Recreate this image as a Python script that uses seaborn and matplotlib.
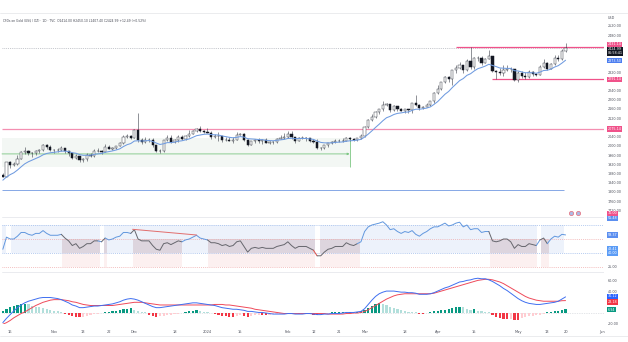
import matplotlib
matplotlib.use("Agg")
import matplotlib.pyplot as plt
from matplotlib.transforms import blended_transform_factory as blend
import numpy as np
import pandas as pd
import seaborn as sns

# ---------------- data ----------------
x_labels = ["16", "Nov", "13", "22", "Dec", "18", "2024", "15", "Feb", "12", "21",
            "Mar", "18", "Apr", "15", "May", "13", "20", "Jun"]
x_label_bars = [2, 14, 22, 29, 36, 47, 56, 65, 78, 85, 92, 99, 110, 119, 129, 141, 149, 154, 164]

opens = [1874, 1868, 1932, 1920, 1923, 1947, 1974, 1981, 1973, 1971,
         1979, 1985, 2006, 1996, 1983, 1983, 1985, 1992, 1978, 1970,
         1950, 1958, 1940, 1946, 1963, 1959, 1981, 1980, 1977, 1998,
         1990, 1992, 2002, 2013, 2041, 2044, 2036, 2072, 2029, 2019,
         2026, 2028, 2004, 1981, 1980, 2027, 2036, 2019, 2028, 2040,
         2031, 2045, 2053, 2067, 2077, 2065, 2063, 2059, 2042, 2043,
         2045, 2027, 2029, 2024, 2029, 2049, 2055, 2028, 2006, 2023,
         2029, 2021, 2029, 2014, 2020, 2018, 2033, 2037, 2039, 2054,
         2039, 2025, 2035, 2035, 2034, 2024, 2020, 1992, 1992, 2004,
         2013, 2017, 2024, 2025, 2024, 2036, 2031, 2029, 2034, 2044,
         2083, 2114, 2128, 2148, 2160, 2179, 2182, 2158, 2175, 2162,
         2155, 2160, 2157, 2186, 2181, 2165, 2171, 2178, 2195, 2230,
         2250, 2280, 2300, 2290, 2330, 2339, 2352, 2333, 2372, 2344,
         2383, 2383, 2361, 2379, 2391, 2327, 2322, 2316, 2332, 2337,
         2335, 2286, 2320, 2303, 2301, 2324, 2314, 2309, 2346, 2360,
         2336, 2358, 2385, 2377, 2414.00]
highs = [1885, 1933, 1937, 1934, 1962, 1980, 1997, 1984, 1977, 1986,
         1990, 2009, 2009, 2007, 1989, 1993, 2003, 1993, 1978, 1971,
         1965, 1960, 1948, 1971, 1969, 1988, 1993, 1984, 2008, 2007,
         1997, 2003, 2018, 2048, 2052, 2047, 2075, 2146, 2038, 2040,
         2034, 2034, 2006, 1990, 2028, 2048, 2047, 2033, 2047, 2048,
         2049, 2071, 2070, 2081, 2088, 2069, 2079, 2065, 2052, 2064,
         2046, 2041, 2040, 2039, 2062, 2058, 2057, 2031, 2025, 2031,
         2034, 2033, 2036, 2023, 2024, 2036, 2048, 2056, 2065, 2065,
         2041, 2039, 2043, 2041, 2038, 2032, 2031, 1996, 2006, 2016,
         2022, 2032, 2032, 2034, 2041, 2039, 2037, 2037, 2052, 2088,
         2119, 2141, 2152, 2164, 2195, 2189, 2184, 2180, 2177, 2167,
         2163, 2163, 2187, 2222, 2183, 2176, 2186, 2197, 2236, 2266,
         2281, 2305, 2305, 2331, 2353, 2365, 2355, 2378, 2431, 2387,
         2393, 2392, 2385, 2417, 2393, 2333, 2338, 2352, 2352, 2346,
         2336, 2326, 2326, 2324, 2331, 2326, 2318, 2351, 2379, 2364,
         2362, 2395, 2398, 2422, 2450.10]
lows = [1866, 1867, 1908, 1913, 1917, 1943, 1967, 1961, 1954, 1962,
        1970, 1980, 1988, 1978, 1970, 1977, 1981, 1969, 1960, 1947,
        1945, 1931, 1932, 1936, 1953, 1955, 1975, 1965, 1975, 1988,
        1986, 1990, 2001, 2012, 2035, 2031, 2034, 2018, 2010, 2016,
        2017, 1995, 1976, 1973, 1977, 2024, 2015, 2016, 2017, 2028,
        2028, 2042, 2052, 2064, 2061, 2058, 2057, 2031, 2038, 2025,
        2017, 2022, 2021, 2013, 2028, 2047, 2024, 2002, 2005, 2015,
        2015, 2011, 2013, 2010, 2010, 2016, 2030, 2030, 2036, 2030,
        2015, 2023, 2030, 2025, 2018, 2016, 1990, 1984, 1988, 1995,
        2010, 2015, 2020, 2020, 2022, 2025, 2025, 2024, 2031, 2040,
        2080, 2110, 2124, 2142, 2154, 2177, 2150, 2155, 2153, 2153,
        2146, 2146, 2146, 2175, 2156, 2163, 2169, 2173, 2186, 2228,
        2245, 2276, 2280, 2266, 2320, 2335, 2319, 2325, 2335, 2334,
        2369, 2355, 2360, 2377, 2323, 2291, 2311, 2306, 2326, 2323,
        2285, 2277, 2296, 2291, 2298, 2303, 2303, 2308, 2340, 2333,
        2336, 2353, 2371, 2374, 2407.40]
closes = [1868, 1932, 1920, 1923, 1947, 1974, 1981, 1973, 1971, 1979,
          1985, 2006, 1996, 1983, 1983, 1985, 1992, 1978, 1970, 1950,
          1958, 1940, 1946, 1963, 1959, 1981, 1980, 1977, 1998, 1990,
          1992, 2002, 2013, 2041, 2044, 2036, 2072, 2029, 2019, 2026,
          2028, 2004, 1981, 1980, 2027, 2036, 2019, 2028, 2040, 2031,
          2045, 2053, 2067, 2077, 2065, 2063, 2059, 2042, 2043, 2045,
          2027, 2029, 2024, 2029, 2049, 2055, 2028, 2006, 2023, 2029,
          2021, 2029, 2014, 2020, 2018, 2033, 2037, 2039, 2054, 2039,
          2025, 2035, 2035, 2034, 2024, 2020, 1992, 1992, 2004, 2013,
          2017, 2024, 2025, 2024, 2036, 2031, 2029, 2034, 2044, 2083,
          2114, 2128, 2148, 2160, 2179, 2182, 2158, 2175, 2162, 2155,
          2160, 2157, 2186, 2181, 2165, 2171, 2178, 2195, 2230, 2250,
          2280, 2300, 2290, 2330, 2339, 2352, 2333, 2372, 2344, 2383,
          2383, 2361, 2379, 2391, 2327, 2322, 2316, 2332, 2337, 2335,
          2286, 2320, 2303, 2301, 2324, 2314, 2309, 2346, 2360, 2336,
          2358, 2385, 2377, 2412.50, 2424.99]
ema10 = [1853, 1867, 1877, 1885, 1897, 1911, 1924, 1933, 1940, 1947,
         1954, 1963, 1969, 1972, 1974, 1976, 1979, 1979, 1977, 1972,
         1970, 1964, 1961, 1961, 1961, 1965, 1967, 1969, 1974, 1977,
         1980, 1984, 1989, 1999, 2007, 2012, 2023, 2024, 2023, 2024,
         2025, 2021, 2014, 2008, 2011, 2016, 2016, 2018, 2022, 2024,
         2028, 2032, 2039, 2046, 2049, 2052, 2053, 2051, 2050, 2049,
         2045, 2042, 2039, 2037, 2039, 2042, 2040, 2033, 2032, 2031,
         2029, 2029, 2026, 2025, 2024, 2026, 2028, 2030, 2034, 2035,
         2033, 2034, 2034, 2034, 2032, 2030, 2023, 2017, 2015, 2015,
         2015, 2017, 2018, 2019, 2022, 2024, 2025, 2027, 2030, 2040,
         2053, 2067, 2082, 2096, 2111, 2124, 2130, 2138, 2143, 2145,
         2148, 2149, 2156, 2161, 2161, 2163, 2166, 2171, 2182, 2194,
         2210, 2226, 2238, 2255, 2270, 2285, 2294, 2308, 2315, 2327,
         2337, 2342, 2348, 2356, 2351, 2346, 2340, 2339, 2338, 2338,
         2328, 2327, 2323, 2319, 2320, 2319, 2317, 2322, 2329, 2330,
         2335, 2344, 2350, 2361, 2373.50]

rsi = [44, 57, 55, 55, 58, 62, 62, 60, 59, 61,
       61, 64, 61, 59, 59, 59, 60, 56, 53, 48,
       50, 45, 47, 50, 50, 53, 53, 52, 56, 54,
       55, 57, 58, 62, 62, 61, 65, 55, 53, 53,
       53, 48, 44, 43, 50, 51, 49, 51, 53, 52,
       54, 55, 57, 59, 56, 55, 54, 51, 51, 50,
       48, 49, 47, 48, 52, 53, 47, 41, 45, 46,
       45, 46, 45, 45, 45, 47, 48, 49, 52, 48,
       45, 47, 47, 47, 45, 43, 37, 37, 41, 44,
       45, 47, 47, 47, 51, 49, 48, 50, 52, 63,
       68, 70, 71, 72, 73.5, 70, 65, 66, 63, 61,
       63, 62, 64, 60, 58, 61, 63, 66, 68, 68,
       70, 72, 69, 70, 72, 73, 68, 70, 65, 66,
       66, 62, 63, 63, 53, 52, 53, 55, 55, 52,
       45, 49, 47, 47, 50, 49, 48, 54, 56, 50,
       55, 58, 57, 60, 59.37]
rsi_bear_spans = [(16.2, 26.6), (27.7, 28.5), (35.6, 49.0), (56.1, 85.4),
                  (86.8, 97.7), (133.2, 146.2), (147.3, 149.5)]
rsi_gap_spans = [(0.9, 2.1), (26.6, 27.7), (85.4, 86.8), (146.2, 147.3)]
rsi_divergence = ([35.5, 53.0], [65.4, 59.3])

macd = [-18, -10, -3, 4, 10, 15, 19, 22, 24, 26,
        28, 29, 29, 29, 28, 27, 25, 22, 19, 15,
        13, 10, 10, 11, 12, 13, 13, 14, 15, 16,
        17, 19, 21, 24, 26, 27, 26, 24, 21, 18,
        15, 12, 10, 10, 11, 12, 13, 14, 15, 16,
        17, 18, 19, 19, 18, 17, 16, 15, 14, 12,
        10, 9, 8, 7, 7, 6, 5, 3, 3, 2,
        1, 1, 0, -1, -2, -2, -2, -2, -1, -1,
        -2, -2, -2, -1, -1, -2, -3, -3, -2, -2,
        -1, -1, -1, 0, 1, 1, 1, 2, 3, 8,
        16, 24, 31, 36, 39, 41, 41, 41, 40, 39,
        39, 38, 38, 37, 35, 35, 35, 36, 38, 41,
        44, 47, 49, 52, 55, 58, 59, 61, 62, 64,
        65, 64, 64, 62, 59, 55, 51, 46, 42, 37,
        32, 27, 23, 20, 18, 17, 16, 16, 17, 18,
        19, 20, 22, 26, 30.12]
signal = [-21, -18, -14, -9, -5, -1, 2, 6, 10, 14,
          17, 20, 22, 24, 25, 25, 25, 24, 23, 21,
          20, 18, 16, 15, 14, 14, 14, 14, 14, 14,
          14, 15, 16, 17, 18, 19, 20, 20, 20, 19,
          18, 17, 16, 15, 15, 15, 15, 15, 15, 15,
          15, 15, 15, 15, 15, 15, 15, 15, 16, 16,
          16, 15, 15, 14, 13, 12, 11, 10, 9, 7,
          6, 5, 4, 3, 2, 1, 0, -1, -1, -1,
          -1, -1, -1, -1, -1, -1, -1, -1, -1, -2,
          -2, -2, -2, -2, -1, -1, 0, 0, 1, 3,
          6, 10, 14, 18, 22, 26, 29, 32, 34, 35,
          36, 36, 36, 36, 36, 36, 36, 36, 37, 39,
          41, 43, 45, 47, 49, 51, 53, 55, 57, 59,
          61, 62, 63, 63, 62, 60, 58, 55, 51, 47,
          43, 39, 35, 31, 28, 26, 24, 23, 22, 22,
          22, 22, 22, 23, 23.18]
hist = [4, 8, 11, 13, 15, 16, 17, 16, 14, 12,
        11, 9, 7, 5, 4, 3, 1, -2, -4, -6,
        -7, -8, -7, -5, -3, -2, -1, 0.5, 1, 2,
        3, 4, 5, 7, 8, 9, 6, 4, 2, 1,
        -3, -5, -7, -6, -5, -4, -3, -2, -1, -0.5,
        2, 3, 4, 5, 3, 2, 1, 0.5, -2, -4,
        -6, -6, -7, -7, -6, -4, -6, -7, -5, -4,
        -3, -3, -4, -3, -2, -1.5, -1, -0.5, -1, -1.5,
        -1, -1, -0.5, -1, -2, -3, -4, -3, -1, 0.5,
        1, 1, 1.5, 1.5, 1, 1.5, 1, 2, 3, 6,
        10, 14, 17, 18, 17, 15, 12, 10, 8, 6,
        4, 2, 1.5, 1, -1, -1.5, -0.5, 2, 3, 4,
        5, 5.5, 8, 10, 11, 12, 11, 7, 6, 7,
        4, 3, 2, 1, -4, -7, -9, -11, -12, -11,
        -13, -14, -10, -8, -6, -5, -4, -3, -1.5, 1,
        2, 3, 4, 6, 6.94]

resistance_top = 2431.14
support_mid = 2291.14
support_low = 2075.14
base_line = 1810.00
range_top, range_mid, range_bottom = 2036.0, 1967.0, 1910.0
range_end_bar = 94.9
price_ticks = [2520, 2480, 2320, 2240, 2200, 2160, 2120, 2040, 2000, 1960,
               1920, 1880, 1840, 1800, 1760, 1720]
rsi_levels = [70, 55, 40, 25]
macd_ticks = [60, 40, -20]

title = ("CFDs on Gold (US$ / OZ) \u00b7 1D \u00b7 TVC  "
         f"O{opens[-1]:.2f} H{highs[-1]:.2f} L{lows[-1]:.2f} C{closes[-1]:.2f} "
         f"+{closes[-1] - closes[-2]:.2f} (+{(closes[-1] - closes[-2]) / closes[-2] * 100:.2f}%)")

# ---------------- style ----------------
sns.set_theme(style="white")
plt.rcParams["font.family"] = ["DejaVu Sans"]

W, H = 628, 342
X_LEFT, X_RIGHT = 2, 604
BAR0_PX, BAR_PX = 54 - 14 * 3.654, 3.654          # pixel position of bar 0, bar spacing
XMIN = (X_LEFT - BAR0_PX) / BAR_PX
XMAX = (X_RIGHT - BAR0_PX) / BAR_PX

RED = "#f0528a"
BLUE_LINE = "#6f9be0"
INK = "#131722"
AXIS_TXT = "#50535e"
FS = 2.4

fig = plt.figure(figsize=(W / 100, H / 100), dpi=100)
fig.patch.set_facecolor("white")


def pane(y0, y1):
    ax = fig.add_axes([X_LEFT / W, 1 - y1 / H, (X_RIGHT - X_LEFT) / W, (y1 - y0) / H])
    ax.set_xlim(XMIN, XMAX)
    for s in ax.spines.values():
        s.set_visible(False)
    ax.set_xticks([])
    ax.set_yticks([])
    ax.patch.set_alpha(0)
    return ax


def axis_text(ax, y, s):
    ax.text(1.006, y, s, transform=blend(ax.transAxes, ax.transData),
            fontsize=FS, color=AXIS_TXT, va="center", ha="left", clip_on=False)


def axis_tag(ax, y, s, fc, tc="white", pad=0.25):
    ax.text(1.006, y, s, transform=blend(ax.transAxes, ax.transData),
            fontsize=FS, color=tc, va="center", ha="left", clip_on=False,
            linespacing=1.0,
            bbox=dict(boxstyle=f"square,pad={pad}", fc=fc, ec="none"))


ax_p = pane(13, 217)
ax_r = pane(217, 272)
ax_m = pane(272, 324)

bars = np.arange(len(closes))
o, h, l, c = map(np.array, (opens, highs, lows, closes))

# ---------------- price pane ----------------
ax_p.set_ylim(2431 - 170 * 4.34, 2431 + 34 * 4.34)

# date/price range tool
ax_p.fill_between([XMIN, range_end_bar], range_bottom, range_top, color="#f3f7f4", lw=0, zorder=0)
ax_p.annotate("", xy=(range_end_bar, range_mid), xytext=(XMIN, range_mid),
              arrowprops=dict(arrowstyle="-|>", color="#7cc682", lw=0.6, mutation_scale=3,
                              shrinkA=0, shrinkB=0), zorder=2)
ax_p.vlines(range_end_bar, range_bottom, range_top, color="#7cc682", lw=0.6, zorder=2)

ax_p.axhline(closes[-1], color="#a3a6af", lw=0.5, ls=(0, (1.2, 1.5)), zorder=1)
ax_p.hlines(resistance_top, 124, XMAX, color=RED, lw=0.9, zorder=2)
ax_p.hlines(support_mid, 134, XMAX, color=RED, lw=0.9, zorder=2)
ax_p.hlines(support_low, XMIN, XMAX, color="#f48fb1", lw=0.9, zorder=2)
ax_p.hlines(base_line, XMIN, 153.5, color="#86a8e6", lw=0.7, zorder=2)

# candles
up = c >= o
ax_p.vlines(bars, l, h, color="#3a3e49", lw=0.4, zorder=3)
body_lo = np.minimum(o, c)
body_h = np.maximum(np.abs(c - o), 1.0)
ax_p.bar(bars[up], body_h[up], bottom=body_lo[up], width=0.6, color="white",
         edgecolor="#3a3e49", linewidth=0.35, zorder=4)
ax_p.bar(bars[~up], body_h[~up], bottom=body_lo[~up], width=0.6, color=INK,
         edgecolor=INK, linewidth=0.35, zorder=4)

sns.lineplot(x=bars, y=ema10, ax=ax_p, color=BLUE_LINE, lw=0.75, zorder=5)

# event markers
ax_p.scatter([155.5, 157.4], [1711, 1711], s=9, color="#a9bde8", edgecolor="#e67a88",
             linewidth=0.6, zorder=6, clip_on=False)

ax_p.text(0.002, 0.972, title, transform=ax_p.transAxes, fontsize=2.15, color="#434651",
          va="top", ha="left")

for t in price_ticks:
    axis_text(ax_p, t, f"{t:.2f}")
axis_text(ax_p, 2556, "USD")
axis_tag(ax_p, 2442, f"{resistance_top:.2f}", RED, pad=0.2)
axis_tag(ax_p, 2412, f"{closes[-1]:.2f}\n06:58:41", INK, pad=0.2)
axis_tag(ax_p, ema10[-1] - 2, f"{ema10[-1]:.2f}", "#4c7ef0", pad=0.2)
axis_tag(ax_p, support_mid, f"{support_mid:.2f}", RED, pad=0.2)
axis_tag(ax_p, support_low, f"{support_low:.2f}", RED, pad=0.2)

# ---------------- RSI pane ----------------
r_lo, r_hi = 25 - 5 * 45 / 42, 70 + 8 * 45 / 42
ax_r.set_ylim(r_lo, r_hi)
ax_r.axhline(r_hi, color="#e6e8ec", lw=0.6)
ax_r.fill_between([XMIN, 153.6], 40, 70, color="#edf2fb", lw=0, zorder=0)
for a, b in rsi_bear_spans:
    ax_r.fill_between([a, b], 40, 55, color="#ddd5de", lw=0, zorder=1)
    ax_r.fill_between([a, b], 25, 40, color="#fcf0f0", lw=0, zorder=1)
for a, b in rsi_gap_spans:
    ax_r.fill_between([a, b], 25, 70, color="white", lw=0, zorder=1)
for lvl, col in zip(rsi_levels, ["#8eb0e8", "#eea0a0", "#8eb0e8", "#eea0a0"]):
    ax_r.axhline(lvl, color=col, lw=0.55, ls=(0, (1, 1.5)), zorder=2)

rsi_arr = np.array(rsi)
state = []
for i, v in enumerate(rsi_arr):
    if any(a <= i <= b for a, b in rsi_bear_spans):
        state.append("bear")
    elif v < 40:
        state.append("low")
    else:
        state.append("bull")
colors = {"bull": "#6197de", "bear": "#66666d", "low": "#e0504a"}
start = 0
for i in range(1, len(state) + 1):
    if i == len(state) or state[i] != state[start]:
        seg = slice(max(start - 1, 0), i)
        df = pd.DataFrame({"bar": bars[seg], "rsi": rsi_arr[seg]})
        sns.lineplot(data=df, x="bar", y="rsi", ax=ax_r, color=colors[state[start]],
                     lw=0.7, zorder=4, sort=False)
        start = i
ax_r.plot(*rsi_divergence, color="#e26d6d", lw=0.7, zorder=5)
ax_r.set_xlabel("")
ax_r.set_ylabel("")

axis_tag(ax_r, 82.5, "70.00", RED, pad=0.2)
axis_tag(ax_r, 77.0, "55.48", "#5b8ff0", pad=0.2)
axis_tag(ax_r, rsi[-1], f"{rsi[-1]:.2f}", "#5b8ff0", pad=0.2)
axis_tag(ax_r, 44.6, "42.41", "#5b9cf6", pad=0.2)
axis_tag(ax_r, 39.6, "40.00", "#5b9cf6", pad=0.2)
axis_text(ax_r, 25, "25.00")

# ---------------- MACD pane ----------------
ax_m.axhline(41 * 1.87, color="#e6e8ec", lw=0.6)
ax_m.axhline(0, color="#c9ccd3", lw=0.5, ls=(0, (1, 1.5)), zorder=0)
hv = np.array(hist, dtype=float)
prev = np.concatenate([[0.0], hv[:-1]])
hist_cols = np.where(hv >= 0, np.where(hv >= prev, "#089981", "#b2dfdb"),
                     np.where(hv <= prev, "#f23645", "#ffcdd2"))
ax_m.bar(bars, hv, width=0.6, color=hist_cols, lw=0, zorder=2)
sns.lineplot(x=bars, y=macd, ax=ax_m, color="#3f6ff0", lw=0.7, zorder=4)
sns.lineplot(x=bars, y=signal, ax=ax_m, color="#ef4a5a", lw=0.7, zorder=3)
ax_m.set_ylim(-11 * 1.87, 41 * 1.87)
ax_m.set_xlabel("")
ax_m.set_ylabel("")
for t in macd_ticks:
    axis_text(ax_m, t, f"{t:.2f}")
axis_tag(ax_m, macd[-1] + 1, f"{macd[-1]:.2f}", "#2962ff", pad=0.2)
axis_tag(ax_m, signal[-1] - 2.5, f"{signal[-1]:.2f}", "#f23645", pad=0.2)
axis_tag(ax_m, hist[-1] - 1, f"{hist[-1]:.2f}", "#089981", pad=0.2)

for pos, lab in zip(x_label_bars, x_labels):
    ax_m.text(pos, -0.16, lab, transform=blend(ax_m.transData, ax_m.transAxes),
              fontsize=2.6, color=AXIS_TXT, ha="center", va="center", clip_on=False)

# outer frame lines
fig.add_artist(plt.Line2D([0, 1], [1 - 13 / H, 1 - 13 / H], color="#e3e5e8", lw=0.5))
fig.add_artist(plt.Line2D([0, 1], [1 - 336 / H, 1 - 336 / H], color="#e3e5e8", lw=0.5))

fig.savefig("out.png", dpi=100, facecolor="white")
